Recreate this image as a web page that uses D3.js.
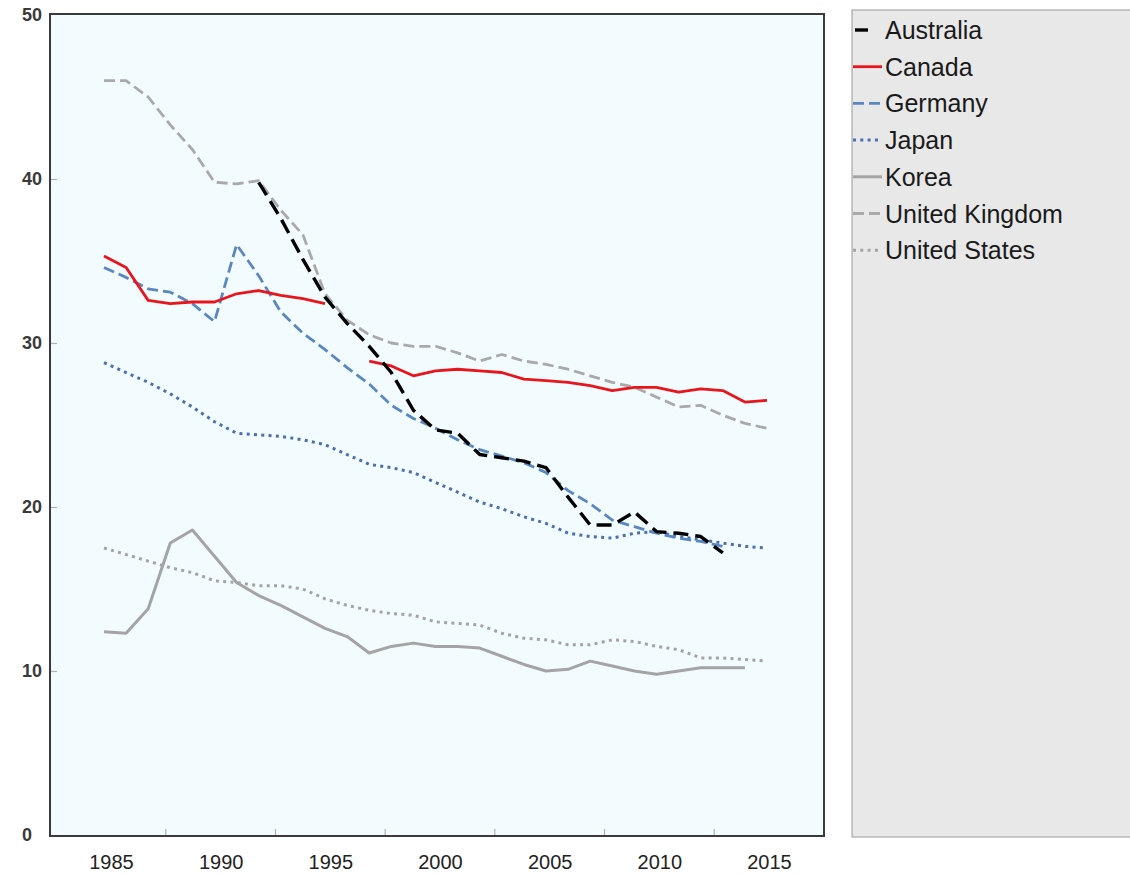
<!DOCTYPE html>
<html>
<head>
<meta charset="utf-8">
<script src="https://cdn.jsdelivr.net/npm/d3@7"></script>
<style>
  html, body { margin: 0; padding: 0; background: #ffffff; }
  svg { display: block; font-family: "Liberation Sans", Arial, sans-serif; }
</style>
</head>
<body>
<svg id="chart" width="1130" height="874"></svg>
<script>
// ---------------- DATA ----------------
const years = d3.range(1985, 2016);
const xTickLabels = [1985, 1990, 1995, 2000, 2005, 2010, 2015];
const yTickValues = [0, 10, 20, 30, 40, 50];

const australia = [null, null, null, null, null, null, null,
  39.8, 37.6, 35.1, 32.8, 31.2, 29.8, 28.2, 25.9, 24.7, 24.5, 23.2, 23.0, 22.8,
  22.4, 20.6, 18.9, 18.9, 19.7, 18.5, 18.4, 18.2, 17.2, null, null];
const canada = [35.3, 34.6, 32.6, 32.4, 32.5, 32.5, 33.0, 33.2, 32.9, 32.7, 32.4, null,
  28.9, 28.6, 28.0, 28.3, 28.4, 28.3, 28.2, 27.8, 27.7, 27.6, 27.4, 27.1, 27.3,
  27.3, 27.0, 27.2, 27.1, 26.4, 26.5];
const germany = [34.6, 34.0, 33.3, 33.1, 32.4, 31.3, 36.0, 34.1, 31.9, 30.6, 29.6,
  28.5, 27.5, 26.2, 25.4, 24.8, 24.1, 23.5, 23.1, 22.7, 22.1, 21.0, 20.2, 19.2,
  18.8, 18.4, 18.1, 17.9, 17.6, null, null];
const japan = [28.8, 28.2, 27.6, 26.9, 26.1, 25.2, 24.5, 24.4, 24.3, 24.1, 23.8,
  23.2, 22.6, 22.4, 22.1, 21.5, 20.9, 20.3, 19.9, 19.4, 19.0, 18.4, 18.2, 18.1,
  18.4, 18.5, 18.2, 18.0, 17.8, 17.6, 17.5];
const korea = [12.4, 12.3, 13.8, 17.8, 18.6, 17.0, 15.4, 14.6, 14.0, 13.3, 12.6,
  12.1, 11.1, 11.5, 11.7, 11.5, 11.5, 11.4, 10.9, 10.4, 10.0, 10.1, 10.6, 10.3,
  10.0, 9.8, 10.0, 10.2, 10.2, 10.2, null];
const unitedKingdom = [46.0, 46.0, 45.0, 43.3, 41.8, 39.8, 39.7, 39.9, 38.1, 36.6,
  33.0, 31.4, 30.5, 30.0, 29.8, 29.8, 29.4, 28.9, 29.3, 28.9, 28.7, 28.4, 28.0,
  27.6, 27.3, 26.7, 26.1, 26.2, 25.6, 25.1, 24.8];
const unitedStates = [17.5, 17.1, 16.7, 16.3, 16.0, 15.5, 15.4, 15.2, 15.2, 15.0,
  14.4, 14.0, 13.7, 13.5, 13.4, 13.0, 12.9, 12.8, 12.3, 12.0, 11.9, 11.6, 11.6,
  11.9, 11.8, 11.5, 11.3, 10.8, 10.8, 10.7, 10.6];

const seriesNames = ["Australia", "Canada", "Germany", "Japan", "Korea", "United Kingdom", "United States"];
const seriesValues = [australia, canada, germany, japan, korea, unitedKingdom, unitedStates];

// ---------------- STYLES ----------------
const styles = {
  "Australia":      { color: "#000000", width: 3.4, dash: "15,7" },
  "Canada":         { color: "#e8161c", width: 2.8, dash: null },
  "Germany":        { color: "#5b87c0", width: 2.8, dash: "11,5" },
  "Japan":          { color: "#4c6fb0", width: 3,   dash: "3,4.3" },
  "Korea":          { color: "#a4a4a4", width: 3,   dash: null },
  "United Kingdom": { color: "#a9a9a9", width: 2.8, dash: "11,5" },
  "United States":  { color: "#a4a4a4", width: 3,   dash: "3,4.3" }
};

// ---------------- LAYOUT ----------------
const svg = d3.select("#chart");
const plot = { left: 50, right: 824, top: 14, bottom: 836 };

const x = d3.scaleLinear().domain([1985, 2015]).range([104, 767]);
const xAxisScale = d3.scaleLinear().domain([1985, 2015]).range([111, 769]);
const y = d3.scaleLinear().domain([0, 50]).range([835, 15]);

// plot background
svg.append("rect")
  .attr("x", plot.left).attr("y", plot.top)
  .attr("width", plot.right - plot.left).attr("height", plot.bottom - plot.top)
  .attr("fill", "#f2fcff");

// y ticks (inside) & labels
const yAxis = d3.axisLeft(y).tickValues(yTickValues).tickSize(-7).tickFormat(d3.format("d")).tickPadding(0);
const gy = svg.append("g").attr("transform", `translate(${plot.left},0)`).call(yAxis);
gy.select(".domain").remove();
gy.selectAll(".tick line").attr("stroke", "#b0b0b0").attr("stroke-width", 1.2)
  .filter(d => d === 0 || d === 50).remove();
gy.selectAll(".tick text")
  .attr("x", -28).attr("text-anchor", "start")
  .attr("font-size", 18).attr("font-weight", "bold").attr("fill", "#3a3a3a")
  .attr("font-family", "'Liberation Sans', Arial, sans-serif");

// x tick marks at category boundaries (inside), labels at category centres
const xMid = [1987.5, 1992.5, 1997.5, 2002.5, 2007.5, 2012.5];
svg.append("g").selectAll("line").data(xMid).join("line")
  .attr("x1", d => xAxisScale(d)).attr("x2", d => xAxisScale(d))
  .attr("y1", plot.bottom).attr("y2", plot.bottom - 7)
  .attr("stroke", "#b0b0b0").attr("stroke-width", 1.2);

const xAxis = d3.axisBottom(xAxisScale).tickValues(xTickLabels).tickSize(0).tickFormat(d3.format("d")).tickPadding(0);
const gx = svg.append("g").attr("transform", `translate(0,${plot.bottom})`).call(xAxis);
gx.select(".domain").remove();
gx.selectAll(".tick text")
  .attr("y", 33).attr("dy", "0")
  .attr("font-size", 20).attr("fill", "#222222")
  .attr("font-family", "'Liberation Sans', Arial, sans-serif");

// lines
const line = d3.line()
  .defined(d => d.v != null)
  .x(d => x(d.year))
  .y(d => y(d.v));

const order = [6, 5, 4, 3, 2, 1, 0];
const gl = svg.append("g");
order.forEach(i => {
  const name = seriesNames[i];
  const st = styles[name];
  const data = years.map((yr, j) => ({ year: yr, v: seriesValues[i][j] }));
  gl.append("path")
    .datum(data)
    .attr("d", line)
    .attr("fill", "none")
    .attr("stroke", st.color)
    .attr("stroke-width", st.width)
    .attr("stroke-linejoin", "round")
    .attr("stroke-dasharray", st.dash);
});

// plot frame
svg.append("rect")
  .attr("x", plot.left).attr("y", plot.top)
  .attr("width", plot.right - plot.left).attr("height", plot.bottom - plot.top)
  .attr("fill", "none").attr("stroke", "#3a3a3a").attr("stroke-width", 2);

// legend
const legend = svg.append("g");
legend.append("rect")
  .attr("x", 852).attr("y", 10).attr("width", 290).attr("height", 827)
  .attr("fill", "#e8e8e8").attr("stroke", "#9a9a9a").attr("stroke-width", 1);

seriesNames.forEach((name, i) => {
  const st = styles[name];
  const cy = 30 + i * 36.7;
  legend.append("line")
    .attr("x1", name === "Australia" ? 855 : 853).attr("x2", name === "Australia" ? 868 : 882)
    .attr("y1", cy).attr("y2", cy)
    .attr("stroke", st.color).attr("stroke-width", st.width)
    .attr("stroke-dasharray", name === "Australia" ? null : st.dash);
  legend.append("text")
    .attr("x", 885).attr("y", cy + 9)
    .attr("font-size", 25).attr("fill", "#1a1a1a")
    .text(name);
});
</script>
</body>
</html>
